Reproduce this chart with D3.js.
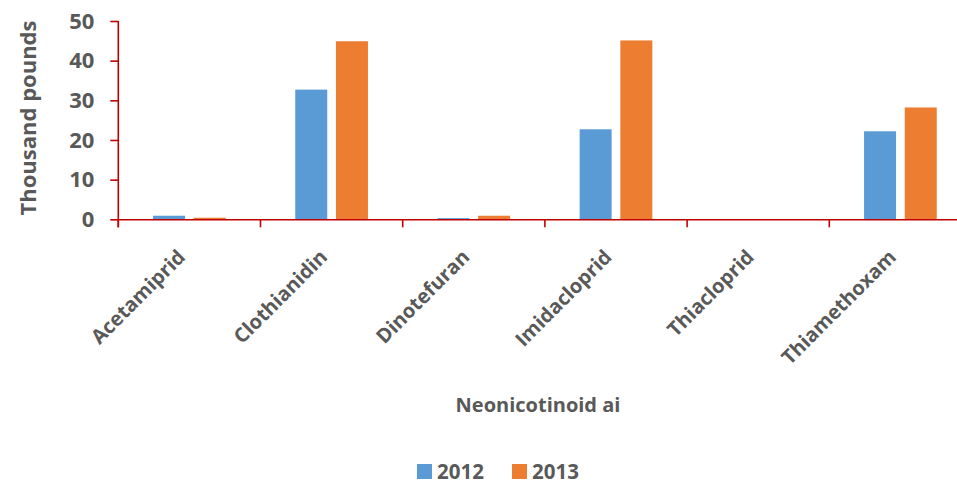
<!DOCTYPE html>
<html><head><meta charset="utf-8">
<script src="https://cdn.jsdelivr.net/npm/d3@7"></script>
<style>body{margin:0;background:#fff}svg{display:block}</style>
</head><body>
<script>
const categories = ["Acetamiprid","Clothianidin","Dinotefuran","Imidacloprid","Thiacloprid","Thiamethoxam"];
const seriesNames = ["2012","2013"];
const values2012 = [0.9, 32.7, 0.3, 22.7, 0.0, 22.2];
const values2013 = [0.4, 44.9, 0.9, 45.1, 0.0, 28.2];
const yTicks = [0,10,20,30,40,50];
const colors = ["#5b9bd5","#ed7d31"];

const W=957,H=484;
const font = "'Open Sans', sans-serif";
const txt = "#595959", axisCol="#c00000";
const svg = d3.select("body").append("svg").attr("width",W).attr("height",H);

const x0 = 118.3, y0 = 219.3, yTop = 21;
const band = 142.2;
const x = d3.scaleBand().domain(categories).range([x0, x0+band*categories.length]).paddingInner(0).paddingOuter(0);
const y = d3.scaleLinear().domain([0,50]).range([y0,yTop]);

const data = categories.map((c,i)=>({c, v:[values2012[i], values2013[i]]}));
const barW = 32, gap = 8.7;
const g = svg.append("g");
data.forEach(d=>{
  d.v.forEach((v,j)=>{
    const cx = x(d.c)+x.bandwidth()/2;
    const bx = j===0 ? cx-gap/2-barW : cx+gap/2;
    g.append("rect").attr("x",bx).attr("width",barW)
      .attr("y",y(v)).attr("height",y0-y(v)).attr("fill",colors[j]);
  });
});

function styleText(sel,size){return sel.attr("fill",txt).style("font-family",font).style("font-weight","bold").style("font-size",size+"px");}

// y axis
const ya = svg.append("g").attr("transform",`translate(${x0},0)`)
  .call(d3.axisLeft(y).tickValues(yTicks).tickSize(8).tickPadding(16));
ya.select(".domain").remove();
ya.selectAll(".tick line").attr("stroke",axisCol).attr("stroke-width",1.6);
styleText(ya.selectAll(".tick text"),22);
svg.append("line").attr("x1",x0).attr("x2",x0).attr("y1",y(50)).attr("y2",y0+8).attr("stroke",axisCol).attr("stroke-width",1.6);

// x axis
const xa = svg.append("g").attr("transform",`translate(0,${y0})`)
  .call(d3.axisBottom(x).tickSize(0).tickSizeOuter(0));
xa.select(".domain").attr("stroke",axisCol).attr("stroke-width",1.6);
xa.selectAll(".tick line").remove();
xa.selectAll(".tick text").remove();
categories.forEach(c=>{
  svg.append("line").attr("x1",x(c)).attr("x2",x(c)).attr("y1",y0).attr("y2",y0+8).attr("stroke",axisCol).attr("stroke-width",1.6);
});
categories.forEach(c=>{
  const cx = x(c)+x.bandwidth()/2 - 3;
  styleText(svg.append("text").attr("transform",`translate(${cx},${y0+39}) rotate(-45)`)
    .attr("text-anchor","end"),20).text(c);
});

// axis titles
styleText(svg.append("text").attr("transform","translate(36,118) rotate(-90)").attr("text-anchor","middle"),22).text("Thousand pounds");
styleText(svg.append("text").attr("x",538).attr("y",412).attr("text-anchor","middle"),20).text("Neonicotinoid ai");

// legend
const leg = svg.append("g");
const lx = [417, 512];
seriesNames.forEach((s,i)=>{
  leg.append("rect").attr("x",lx[i]).attr("y",464).attr("width",15).attr("height",15).attr("fill",colors[i]);
  styleText(leg.append("text").attr("x",lx[i]+20).attr("y",478.5),20.5).text(s);
});
</script>
</body></html>
